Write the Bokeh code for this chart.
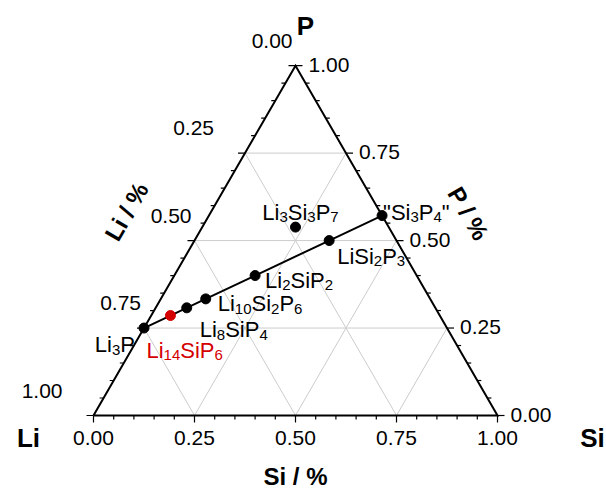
import math
from bokeh.plotting import figure
from bokeh.models import Range1d
from bokeh.core.properties import value
from bokeh.embed import file_html
from bokeh.resources import INLINE

# ---- data: Li-Si-P phases (atoms per formula unit) ----
phases = ["Li3P", "Li14SiP6", "Li8SiP4", "Li10Si2P6", "Li2SiP2", "LiSi2P3", '"Si3P4"', "Li3Si3P7"]
li_atoms = [3, 14, 8, 10, 2, 1, 0, 3]
si_atoms = [0, 1, 1, 2, 1, 2, 3, 3]
p_atoms = [1, 6, 4, 6, 2, 3, 4, 7]
tie_line = ["Li3P", "Li14SiP6", "Li8SiP4", "Li10Si2P6", "Li2SiP2", "LiSi2P3", '"Si3P4"']
highlighted = ["Li14SiP6"]

major_ticks = [0.0, 0.25, 0.5, 0.75, 1.0]
major_labels = ["0.00", "0.25", "0.50", "0.75", "1.00"]
minor_ticks = [i / 20 for i in range(21)]
grid_values = [0.25, 0.5, 0.75]

# ---- layout / style ----
W, H = 606, 489
PX = 404.0            # pixels per unit side length
OX, OY = 93, 415      # pixel position of the Li corner
K = 1.0 / PX          # one pixel in data units
FONT = "Liberation Sans"
BLACK = "#000000"
RED = "#d40000"
GRID = "#cccccc"
TICK_FS = 21          # tick label font size (px)
FS = 22               # phase label font size (px)
SUB = 15              # subscript font size (px)
SUB_DROP = 5          # subscript baseline drop (px)

# label placement: anchor, dx, dy (px, dy downwards) of the text centre line
label_place = {
    "Li3P": ("right", -9, 9),
    "Li14SiP6": ("left", -24, 27),
    "Li8SiP4": ("left", 13, 14),
    "Li10Si2P6": ("left", 12, -3),
    "Li2SiP2": ("left", 10, -3),
    "LiSi2P3": ("left", 8, 8),
    '"Si3P4"': ("left", 1, -11),
    "Li3Si3P7": ("center", 5, -23),
}
left_label_shift = [0, -28, 0, 0, -28]

# Arial / Liberation Sans advance widths (em/1000)
ADV = {"L": 556, "i": 222, "S": 667, "P": 667, '"': 355, " ": 278}
for d in "0123456789":
    ADV[d] = 556

SQ = math.sqrt(3) / 2


def tern(li, si, p):
    t = li + si + p
    si, p = si / t, p / t
    return si + p / 2, p * SQ


p = figure(width=W, height=H,
           x_range=Range1d(-OX / PX, (W - OX) / PX),
           y_range=Range1d(-(H - OY) / PX, OY / PX),
           x_axis_type=None, y_axis_type=None,
           toolbar_location=None, output_backend="svg", min_border=0)
p.outline_line_color = None
p.background_fill_color = "white"
p.border_fill_color = "white"


def text(x, y, t, size=FS, bold=False, color=BLACK, align="left",
         baseline="alphabetic", angle=0.0):
    p.text(x=[x], y=[y], text=[t], text_font=value(FONT),
           text_font_size=f"{size}px",
           text_font_style="bold" if bold else "normal",
           text_color=color, text_align=align, text_baseline=baseline,
           angle=angle)


# ---- grid lines ----
gx0, gy0, gx1, gy1 = [], [], [], []
for v in grid_values:
    # constant Si
    a, b = tern(1 - v, v, 0), tern(0, v, 1 - v)
    gx0 += [a[0]]; gy0 += [a[1]]; gx1 += [b[0]]; gy1 += [b[1]]
    # constant P
    a, b = tern(1 - v, 0, v), tern(0, 1 - v, v)
    gx0 += [a[0]]; gy0 += [a[1]]; gx1 += [b[0]]; gy1 += [b[1]]
    # constant Li
    a, b = tern(v, 1 - v, 0), tern(v, 0, 1 - v)
    gx0 += [a[0]]; gy0 += [a[1]]; gx1 += [b[0]]; gy1 += [b[1]]
p.segment(gx0, gy0, gx1, gy1, line_color=GRID, line_width=1)

# ---- triangle frame ----
cLi, cSi, cP = tern(1, 0, 0), tern(0, 1, 0), tern(0, 0, 1)
p.line([cLi[0], cSi[0], cP[0], cLi[0]], [cLi[1], cSi[1], cP[1], cLi[1]],
       line_color=BLACK, line_width=2, line_join="miter")

# ---- ticks ----
tx0, ty0, tx1, ty1 = [], [], [], []
for v in minor_ticks:
    L = (7 if any(abs(v - m) < 1e-9 for m in major_ticks) else 4) * K
    # bottom (Si), ticks downward
    x, y = tern(1 - v, v, 0)
    tx0 += [x]; ty0 += [y]; tx1 += [x]; ty1 += [y - L]
    # right (P), ticks to the right
    x, y = tern(0, 1 - v, v)
    tx0 += [x]; ty0 += [y]; tx1 += [x + L]; ty1 += [y]
    # left (Li), ticks to the left
    x, y = tern(v, 0, 1 - v)
    tx0 += [x]; ty0 += [y]; tx1 += [x - L]; ty1 += [y]
p.segment(tx0, ty0, tx1, ty1, line_color=BLACK, line_width=1.2)

# ---- tick labels ----
for i, (v, lab) in enumerate(zip(major_ticks, major_labels)):
    x, y = tern(1 - v, v, 0)
    text(x, y - 22 * K, lab, size=TICK_FS, align="center", baseline="middle")
    x, y = tern(0, 1 - v, v)
    text(x + 13 * K, y + 1 * K, lab, size=TICK_FS, align="left", baseline="middle")
    x, y = tern(v, 0, 1 - v)
    text(x + (-3 + left_label_shift[i]) * K, y + 25 * K, lab, size=TICK_FS,
         align="right", baseline="middle")

# ---- axis titles and corner labels ----
mx, my = tern(0, 1, 1)
text(mx + 72 * K, my + 27 * K, "P / %", size=24, bold=True, align="center",
     baseline="middle", angle=-math.pi / 3)
mx, my = tern(1, 0, 1)
text(mx - 68 * K, my + 29 * K, "Li / %", size=24, bold=True, align="center",
     baseline="middle", angle=math.pi / 3)
mx, my = tern(1, 1, 0)
text(mx, my - 61 * K, "Si / %", size=24, bold=True, align="center", baseline="middle")
text(cP[0] + 10 * K, cP[1] + 40 * K, "P", size=26, bold=True, align="center", baseline="middle")
text(cLi[0] - 65 * K, cLi[1] - 22 * K, "Li", size=26, bold=True, align="center", baseline="middle")
text(cSi[0] + 95 * K, cSi[1] - 22 * K, "Si", size=26, bold=True, align="center", baseline="middle")

# ---- tie line and phases ----
pos = {n: tern(l, s, q) for n, l, s, q in zip(phases, li_atoms, si_atoms, p_atoms)}
p.line([pos[n][0] for n in tie_line], [pos[n][1] for n in tie_line],
       line_color=BLACK, line_width=2)
p.scatter([pos[n][0] for n in phases], [pos[n][1] for n in phases],
          size=10, marker="circle",
          fill_color=[RED if n in highlighted else BLACK for n in phases],
          line_color=[RED if n in highlighted else BLACK for n in phases])


def segments(formula):
    segs, cur, sub = [], "", False
    for ch in formula:
        is_sub = ch.isdigit()
        if cur and is_sub != sub:
            segs.append((cur, sub)); cur = ""
        cur += ch; sub = is_sub
    if cur:
        segs.append((cur, sub))
    return segs


def width(seg, size):
    return sum(ADV[c] for c in seg) / 1000 * size


for n in phases:
    anchor, dx, dy = label_place[n]
    segs = segments(n)
    total = sum(width(s, SUB if sb else FS) for s, sb in segs)
    x0 = pos[n][0] + dx * K
    if anchor == "right":
        x0 -= total * K
    elif anchor == "center":
        x0 -= total / 2 * K
    base = pos[n][1] - (dy + 0.36 * FS) * K
    color = RED if n in highlighted else BLACK
    x = x0
    for s, sb in segs:
        size = SUB if sb else FS
        text(x, base - (SUB_DROP * K if sb else 0), s, size=size, color=color)
        x += width(s, size) * K

open("out.html", "w").write(file_html(p, INLINE))
